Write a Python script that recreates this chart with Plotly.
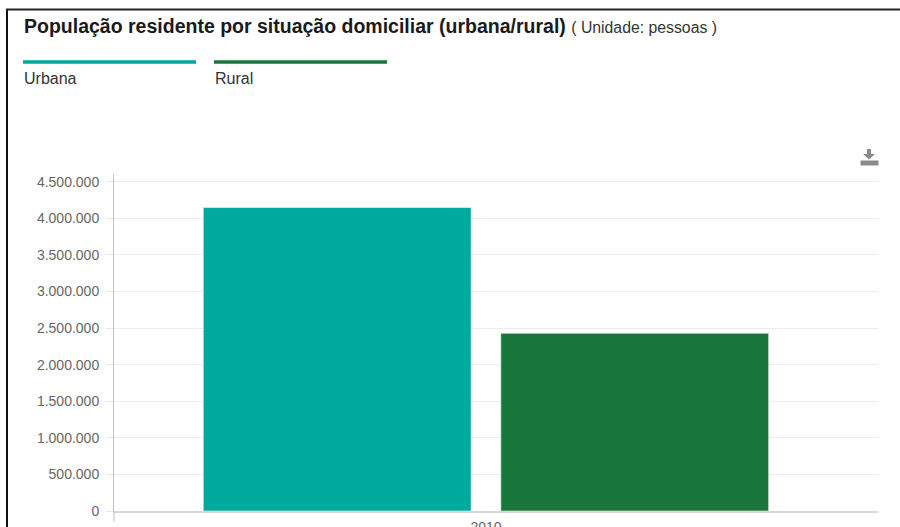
import plotly.graph_objects as go

# ---- data ----
categories = ["2010"]
series_names = ["Urbana", "Rural"]
urbana = [4147149]
rural = [2427640]
series_colors = ["#00a99d", "#18763a"]
y_tick_vals = [0, 500000, 1000000, 1500000, 2000000, 2500000, 3000000, 3500000, 4000000, 4500000]

W_FIG, H_FIG = 900, 527
L, R, T, B = 114, 878, 174, 511


def px(x):
    return (x - L) / (R - L)


def py(y):
    return (B - y) / (B - T)


fig = go.Figure()
fig.add_trace(go.Bar(x=categories, y=urbana, name=series_names[0],
                     marker=dict(color=series_colors[0],
                                 line=dict(color="rgba(255,255,255,0.5)", width=1))))
fig.add_trace(go.Bar(x=categories, y=rural, name=series_names[1],
                     marker=dict(color=series_colors[1],
                                 line=dict(color="rgba(255,255,255,0.5)", width=1))))

shapes = []
# frame lines
shapes.append(dict(type="line", xref="paper", yref="paper",
                   x0=px(7), x1=px(7), y0=py(9), y1=py(530),
                   line=dict(color="#111", width=2)))
shapes.append(dict(type="line", xref="paper", yref="paper",
                   x0=px(6), x1=px(902), y0=py(9.5), y1=py(9.5),
                   line=dict(color="#222", width=2)))
# legend lines
legend_x = [(23, 196), (214, 387)]
for (x0, x1), c in zip(legend_x, series_colors):
    shapes.append(dict(type="line", xref="paper", yref="paper",
                       x0=px(x0), x1=px(x1), y0=py(62), y1=py(62),
                       line=dict(color=c, width=3.5)))
# x-axis tick at left boundary
shapes.append(dict(type="line", xref="paper", yref="paper",
                   x0=0, x1=0, y0=0, y1=py(522),
                   line=dict(color="#c0c0c0", width=1)))
# download icon
shapes.append(dict(type="path", xref="paper", yref="paper",
                   path=(f"M {px(867)} {py(149)} L {px(871)} {py(149)} L {px(871)} {py(154)} "
                         f"L {px(875)} {py(154)} L {px(869)} {py(159.5)} L {px(863)} {py(154)} "
                         f"L {px(867)} {py(154)} Z"),
                   fillcolor="#8a8a8a", line=dict(width=0)))
shapes.append(dict(type="rect", xref="paper", yref="paper",
                   x0=px(860.5), x1=px(878.5), y0=py(165.5), y1=py(160.5),
                   fillcolor="#8a8a8a", line=dict(width=0)))

annotations = []
annotations.append(dict(
    xref="paper", yref="paper", x=px(22), y=py(26), xanchor="left", yanchor="middle",
    showarrow=False,
    text=("<b>População residente por situação domiciliar (urbana/rural)</b> "
          "<span style='font-size:15.8px;color:#333'>( Unidade: pessoas )</span>"),
    font=dict(family="Liberation Sans, Arial", size=19.5, color="#1a1a1a")))
for (x0, x1), name in zip(legend_x, series_names):
    annotations.append(dict(
        xref="paper", yref="paper", x=px(x0 - 1), y=py(79), xanchor="left", yanchor="middle",
        showarrow=False, text=name,
        font=dict(family="Liberation Sans, Arial", size=16, color="#333")))

fig.update_layout(
    width=W_FIG, height=H_FIG,
    margin=dict(l=L, r=W_FIG - R, t=T, b=H_FIG - B, pad=0, autoexpand=False),
    paper_bgcolor="white", plot_bgcolor="white",
    barmode="group", bargap=0.2, bargroupgap=0.1,
    showlegend=False,
    separators=",.",
    font=dict(family="Liberation Sans, Arial", size=14, color="#666"),
    shapes=shapes, annotations=annotations,
    xaxis=dict(type="category", range=[-0.5, 0.527], showgrid=False,
               showline=True, linecolor="#d8d8d8", linewidth=2,
               ticks="", ticklabelstandoff=2, automargin=False,
               tickfont=dict(size=14, color="#666"), fixedrange=True),
    yaxis=dict(range=[0, 4605000], tickvals=y_tick_vals, tickformat=",.0f",
               showgrid=True, gridcolor="#ececec", gridwidth=1, zeroline=False,
               showline=True, linecolor="#c0c0c0", linewidth=1,
               ticks="outside", ticklen=7, tickcolor="#e6e6e6",
               ticklabelstandoff=4, automargin=False,
               tickfont=dict(size=14, color="#666"), fixedrange=True),
)

fig.write_html("out.html", config={"displayModeBar": False},
               post_script="document.body.style.margin='0';document.body.style.overflow='hidden';")
